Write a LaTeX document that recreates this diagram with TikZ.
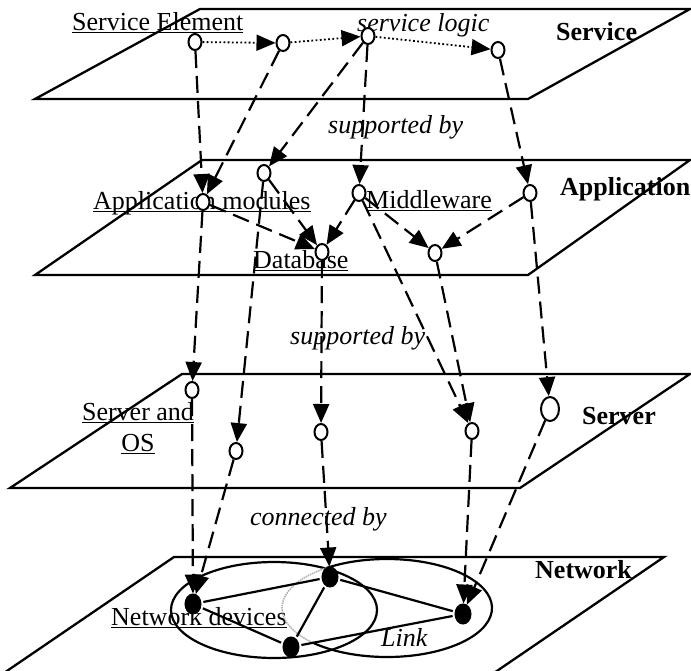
\documentclass[tikz,border=0pt]{standalone}
\usepackage{fontspec}
\setmainfont{Liberation Serif}
\usetikzlibrary{arrows.meta,shapes.geometric}

% underline at a fixed depth below the baseline
\newsavebox\ulinebox
\newcommand{\ulined}[1]{\sbox\ulinebox{#1}\leavevmode\rlap{\rule[-3pt]{\wd\ulinebox}{1pt}}\usebox\ulinebox}

\begin{document}
\begin{tikzpicture}[x=1pt,y=-1pt,
  layer/.style={line width=2.3pt, line join=miter},
  txt/.style={inner sep=0pt, anchor=base west, font=\fontsize{26}{31}\selectfont},
  itl/.style={txt, font=\fontsize{26}{31}\selectfont\itshape},
  bld/.style={txt, font=\fontsize{26}{31}\selectfont\bfseries},
  el/.style={ellipse, draw, line width=2pt, fill=white, inner sep=0pt,
             minimum width=13pt, minimum height=16pt},
  bigel/.style={el, minimum width=18pt, minimum height=24pt},
  dev/.style={ellipse, draw, fill=black, line width=1pt, inner sep=0pt,
              minimum width=16pt, minimum height=20pt},
  tip/.style={-{Triangle[length=19pt,width=16pt]}},
  dep/.style={tip, line width=2.2pt, dash pattern=on 17pt off 8pt},
  logic/.style={tip, line width=1.8pt, dash pattern=on 1.8pt off 2.4pt},
  link/.style={line width=2.2pt, shorten <=2pt, shorten >=2pt},
]
\useasboundingbox (0,0) rectangle (691,670);
\clip (0,0) rectangle (691,670);

% the four planes
\draw[layer] (200,9) -- (690,9) -- (528,99) -- (35,99) -- cycle;
\draw[layer] (202,160) -- (690,160) -- (528,275) -- (35,275) -- cycle;
\draw[layer] (182,374) -- (690,374) -- (520,488) -- (10,488) -- cycle;
\draw[layer] (-21,690) -- (174,557) -- (664,557) -- (469,690);

% labels
\node[txt] (lse) at (72,30) {\ulined{Service Element}};
\node[itl] (llogic) at (357,31) {service logic};
\node[bld] (lsvc) at (556,40) {Service};
\node[itl] (lsup1) at (328,133) {supported by};
\node[txt] (lapm) at (93,209) {\ulined{Application modules}};
\node[txt] (lmw) at (366,208) {\ulined{Middleware}};
\node[txt] (ldb) at (253,268) {\ulined{Database}};
\node[bld] (lapp) at (560,195) {Application};
\node[itl] (lsup2) at (290,344) {supported by};
\node[txt, anchor=base] (lsrv1) at (138,420) {\ulined{Server and}};
\node[txt, anchor=base] (lsrv2) at (138,451) {\ulined{OS}};
\node[bld] (lsrv) at (582,424) {Server};
\node[itl] (lconn) at (250,525) {connected by};
\node[txt] (lnd) at (111,625) {\ulined{Network devices}};
\node[itl] (llink) at (381,646) {Link};
\node[bld] (lnet) at (535,578) {Network};

% network domains
\draw[line width=2.2pt] (274,610) ellipse [x radius=103, y radius=48];
\draw[line width=2.2pt] (387,608) ++(235:105 and 49)
  arc[start angle=235, end angle=495, x radius=105, y radius=49];
\draw[gray!60, line width=1.6pt, dash pattern=on 1.5pt off 0.8pt] (387,608) ++(135:105 and 49)
  arc[start angle=135, end angle=235, x radius=105, y radius=49];

% service elements
\node[el] (s1) at (195,42) {};
\node[el] (s2) at (283,43) {};
\node[el] (s3) at (368,36) {};
\node[el] (s4) at (498,50) {};
% application elements
\node[el] (a1) at (203,202) {};
\node[el] (a2) at (264,173) {};
\node[el] (a3) at (359,193) {};
\node[el] (a4) at (530,193) {};
\node[el] (db) at (322,252) {};
\node[el] (a6) at (435,253) {};
% server elements
\node[el] (v1) at (192,390) {};
\node[el] (v2) at (236,451) {};
\node[el] (v3) at (321,432) {};
\node[el] (v4) at (472,431) {};
\node[bigel] (v5) at (550,409) {};
% network devices
\node[dev] (n1) at (193,604) {};
\node[dev] (n2) at (330,577) {};
\node[dev] (n3) at (291,647) {};
\node[dev] (n4) at (463,614) {};

% service logic
\draw[logic] (s1) -- (s2);
\draw[logic] (s2) -- (s3);
\draw[logic] (s3) -- (s4);

% service -> application
\draw[dep] (s1) -- (a1);
\draw[dep] (s2) -- (a1);
\draw[dep] (s3) -- (a2);
\draw[dep] (s3) -- (a3);
\draw[dep] (s4) -- (a4);
% inside application
\draw[dep] (a1) -- (db);
\draw[dep] (a2) -- (db);
\draw[dep] (a3) -- (db);
\draw[dep] (a3) -- (a6);
\draw[dep] (a4) -- (a6);
% application -> server
\draw[dep] (a1) -- (v1);
\draw[dep] (a2) -- (v2);
\draw[dep] (db) -- (v3);
\draw[dep] (a3) -- (v4);
\draw[dep] (a6) -- (v4);
\draw[dep] (a4) -- (v5);
% server -> network
\draw[dep] (v1) -- (n1);
\draw[dep] (v2) -- (n1);
\draw[dep] (v3) -- (n2);
\draw[dep] (v4) -- (n4);
\draw[dep] (v5) -- (n4);

% links
\draw[link] (n1) -- (n2);
\draw[link] (n1) -- (n3);
\draw[link] (n2) -- (n3);
\draw[link] (n2) -- (n4);
\draw[link] (n3) -- (n4);
\end{tikzpicture}
\end{document}
